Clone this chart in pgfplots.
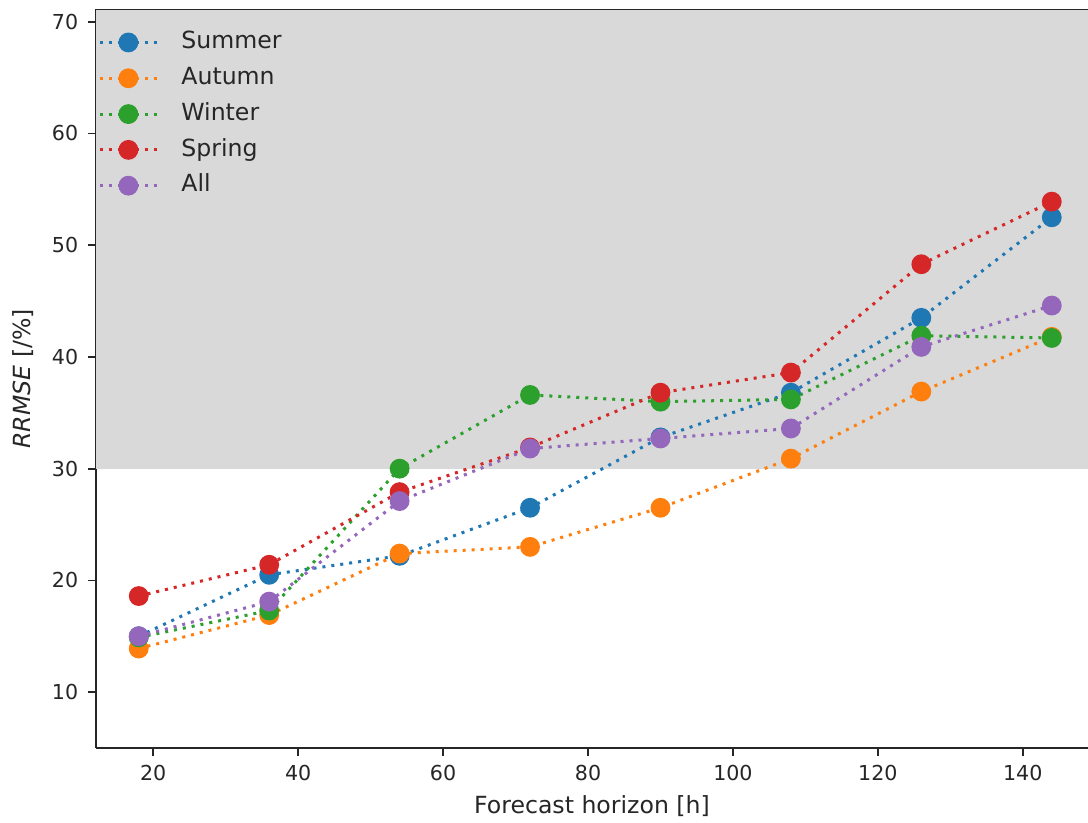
\documentclass[border=0pt]{standalone}
\usepackage{fontspec}
\setmainfont{DejaVu Sans}
\usepackage{pgfplots}
\pgfplotsset{compat=1.18}

\definecolor{cSummer}{HTML}{1F77B4}
\definecolor{cAutumn}{HTML}{FF7F0E}
\definecolor{cWinter}{HTML}{2CA02C}
\definecolor{cSpring}{HTML}{D62728}
\definecolor{cAll}{HTML}{9467BD}
\definecolor{bandgray}{HTML}{D9D9D9}
\definecolor{spine}{HTML}{262626}

\begin{document}
\fontsize{10.3}{12.4}\selectfont
\begin{tikzpicture}
\begin{axis}[
  scale only axis,
  width=496pt, height=369.25pt,
  xmin=12.1, xmax=149, ymin=5, ymax=71.1,
  axis x line*=bottom, axis y line*=left,
  axis line style={-, line width=0.9pt, spine},
  xtick={20,40,60,80,100,120,140},
  ytick={10,20,30,40,50,60,70},
  tick align=outside,
  major tick length=3.8pt,
  tick style={line width=0.9pt, spine},
  /pgf/number format/assume math mode=true,
  ticklabel style={font=\fontsize{10.3}{12.4}\selectfont, text=spine},
  xticklabel style={yshift=-1pt},
  yticklabel style={xshift=-1.5pt},
  xlabel={Forecast horizon [h]},
  ylabel={\textit{RRMSE} [/\%]},
  label style={font=\fontsize{11.8}{14}\selectfont, text=spine},
  xlabel style={yshift=-0.5pt},
  ylabel style={yshift=2pt},
  every axis plot/.append style={
    line width=1.5pt, dash pattern=on 1.5pt off 3pt,
    mark=*, mark size=4.2pt, mark options={solid, draw=none}},
  legend style={at={(rel axis cs:0,1)}, anchor=north west,
    xshift=1pt, yshift=-8.85pt,
    draw=none, fill=none, inner sep=0pt, row sep=3pt,
    nodes={inner sep=2pt, text height=8.6pt, text depth=2.3pt},
    font=\fontsize{11.8}{14}\selectfont, text=spine},
  legend cell align=left,
  legend image code/.code={
    \draw[mark repeat=2, mark phase=2]
      plot coordinates {(0pt,0pt) (14.25pt,0pt) (28.5pt,0pt)};},
  /tikz/every odd column/.append style={column sep=9.5pt},
]
% shaded band above 30 %
\fill[bandgray] (axis cs:12.1,30) rectangle (rel axis cs:1,1);

\addplot[cSummer] coordinates {
  (18,15.0) (36,20.5) (54,22.2) (72,26.5) (90,32.8) (108,36.8) (126,43.5) (144,52.5)};
\addlegendentry{Summer}
\addplot[cAutumn] coordinates {
  (18,13.9) (36,16.9) (54,22.4) (72,23.0) (90,26.5) (108,30.9) (126,36.9) (144,41.8)};
\addlegendentry{Autumn}
\addplot[cWinter] coordinates {
  (18,14.9) (36,17.3) (54,30.0) (72,36.6) (90,36.0) (108,36.2) (126,41.9) (144,41.7)};
\addlegendentry{Winter}
\addplot[cSpring] coordinates {
  (18,18.6) (36,21.4) (54,27.9) (72,31.9) (90,36.8) (108,38.6) (126,48.3) (144,53.9)};
\addlegendentry{Spring}
\addplot[cAll] coordinates {
  (18,15.0) (36,18.1) (54,27.1) (72,31.8) (90,32.7) (108,33.6) (126,40.9) (144,44.6)};
\addlegendentry{All}

% top spine
\draw[line width=0.9pt, spine] (rel axis cs:0,1) -- (rel axis cs:1,1);
\end{axis}
\pgfresetboundingbox
\path[use as bounding box] ([xshift=-48pt, yshift=-37.5pt]current axis.south west)
  rectangle ([yshift=4.75pt]current axis.north east);
\end{tikzpicture}
\end{document}
